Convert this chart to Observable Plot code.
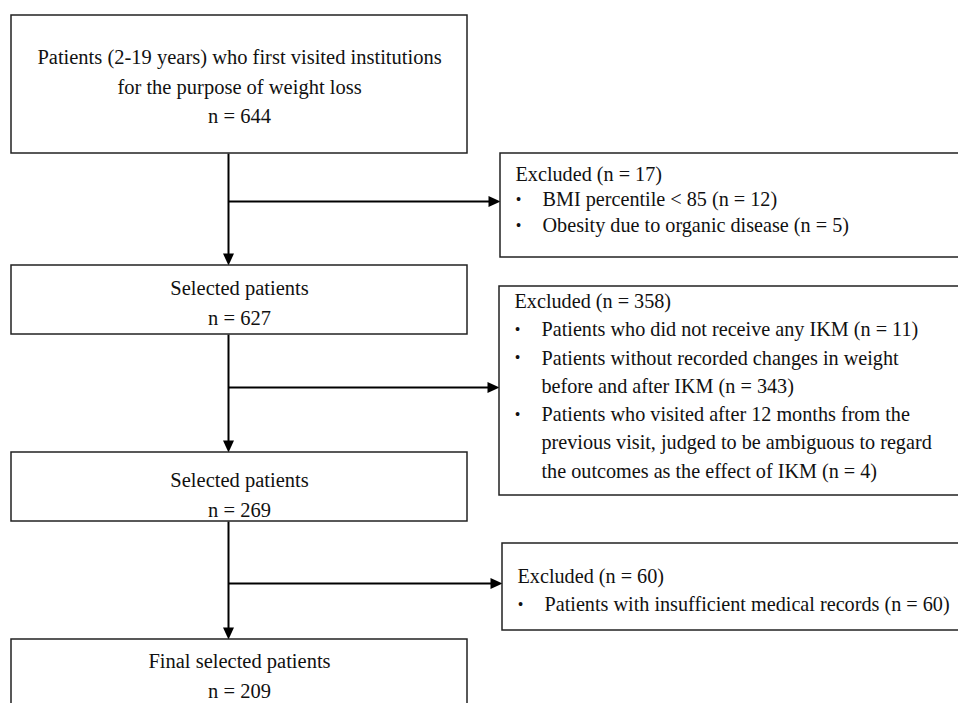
<!DOCTYPE html>
<html>
<head>
<meta charset="utf-8">
<script src="https://cdn.jsdelivr.net/npm/d3@7"></script>
<script src="https://cdn.jsdelivr.net/npm/@observablehq/plot@0.6"></script>
<style>
  html, body { margin: 0; padding: 0; background: #fff; }
  #chart svg { display: block; }
</style>
</head>
<body>
<div id="chart"></div>
<script>
// ---------- DATA ----------
const stageTitles = [
  ["Patients (2-19 years) who first visited institutions", "for the purpose of weight loss"],
  ["Selected patients"],
  ["Selected patients"],
  ["Final selected patients"]
];
const stageN = [644, 627, 269, 209];
const excludedN = [17, 358, 60];
const excludedReasons = [
  [["BMI percentile < 85 (n = 12)"], ["Obesity due to organic disease (n = 5)"]],
  [["Patients who did not receive any IKM (n = 11)"],
   ["Patients without recorded changes in weight", "before and after IKM (n = 343)"],
   ["Patients who visited after 12 months from the", "previous visit, judged to be ambiguous to regard", "the outcomes as the effect of IKM (n = 4)"]],
  [["Patients with insufficient medical records (n = 60)"]]
];

// ---------- LAYOUT ----------
const W = 958, H = 703;
const mainX1 = 11, mainX2 = 467, trunkX = 228;
const stageY = [[15, 153], [265, 334], [452, 521], [639, 715]];
const stageFirstLine = [57, 288, 480, 661];
const stageStep = 29.5;
const exclBox = [{x1: 500, y1: 153, y2: 257}, {x1: 499, y1: 286, y2: 495}, {x1: 502, y1: 543, y2: 630}];
const exclFirstLine = [174, 301, 576];
const exclStep = [25.5, 28.3, 28];
const branchY = [201, 387, 583];
const exclX2 = 964;

// build tables
const boxes = [];
stageY.forEach(([y1, y2]) => boxes.push({x1: mainX1, x2: mainX2, y1, y2}));
exclBox.forEach(b => boxes.push({x1: b.x1, x2: exclX2, y1: b.y1, y2: b.y2}));

const centerText = [];
stageTitles.forEach((lines, i) => {
  const all = [...lines, `n = ${stageN[i]}`];
  all.forEach((t, j) => centerText.push({x: (mainX1 + mainX2) / 2, y: stageFirstLine[i] + j * stageStep, text: t}));
});

const leftText = [];
const bullets = [];
excludedN.forEach((n, i) => {
  const b = exclBox[i];
  let row = 0;
  leftText.push({x: b.x1 + 15, y: exclFirstLine[i], text: `Excluded (n = ${n})`});
  row++;
  excludedReasons[i].forEach(lines => {
    bullets.push({x: b.x1 + 18, y: exclFirstLine[i] + row * exclStep[i]});
    lines.forEach(t => {
      leftText.push({x: b.x1 + 42, y: exclFirstLine[i] + row * exclStep[i], text: t});
      row++;
    });
  });
});

const links = [];
for (let i = 0; i < 3; i++) {
  links.push({x1: trunkX, y1: stageY[i][1], x2: trunkX, y2: stageY[i + 1][0] - 10});
  links.push({x1: trunkX, y1: branchY[i], x2: exclBox[i].x1 - 10, y2: branchY[i]});
}
const downHeads = stageY.slice(1).map(([y1]) => ({x: trunkX, y: y1}));
const rightHeads = exclBox.map((b, i) => ({x: b.x1, y: branchY[i]}));

const downTri = {draw(ctx) { ctx.moveTo(0, 0); ctx.lineTo(-5.5, -12); ctx.lineTo(5.5, -12); ctx.closePath(); }};
const rightTri = {draw(ctx) { ctx.moveTo(0, 0); ctx.lineTo(-12, -5.5); ctx.lineTo(-12, 5.5); ctx.closePath(); }};

const font = "'Liberation Serif', 'Times New Roman', serif";

const plot = Plot.plot({
  width: W, height: H,
  margin: 0,
  x: {type: "identity"},
  y: {type: "identity"},
  style: {fontFamily: font, background: "#fff"},
  marks: [
    Plot.link(links, {x1: "x1", y1: "y1", x2: "x2", y2: "y2", stroke: "#000", strokeWidth: 2}),
    Plot.dot(downHeads, {x: "x", y: "y", symbol: downTri, r: 6, fill: "#000", stroke: "none"}),
    Plot.dot(rightHeads, {x: "x", y: "y", symbol: rightTri, r: 6, fill: "#000", stroke: "none"}),
    Plot.rect(boxes, {x1: "x1", x2: "x2", y1: "y1", y2: "y2", fill: "#fff", stroke: "#222", strokeWidth: 1.5}),
    Plot.text(centerText, {x: "x", y: "y", text: "text", textAnchor: "middle", lineAnchor: "middle", fontSize: 20.5, fill: "#111"}),
    Plot.text(leftText, {x: "x", y: "y", text: "text", textAnchor: "start", lineAnchor: "middle", fontSize: 20.2, fill: "#111"}),
    Plot.text(bullets, {x: "x", y: "y", text: () => "•", textAnchor: "middle", lineAnchor: "middle", fontSize: 16, fill: "#111"})
  ]
});
document.getElementById("chart").appendChild(plot);
</script>
</body>
</html>
